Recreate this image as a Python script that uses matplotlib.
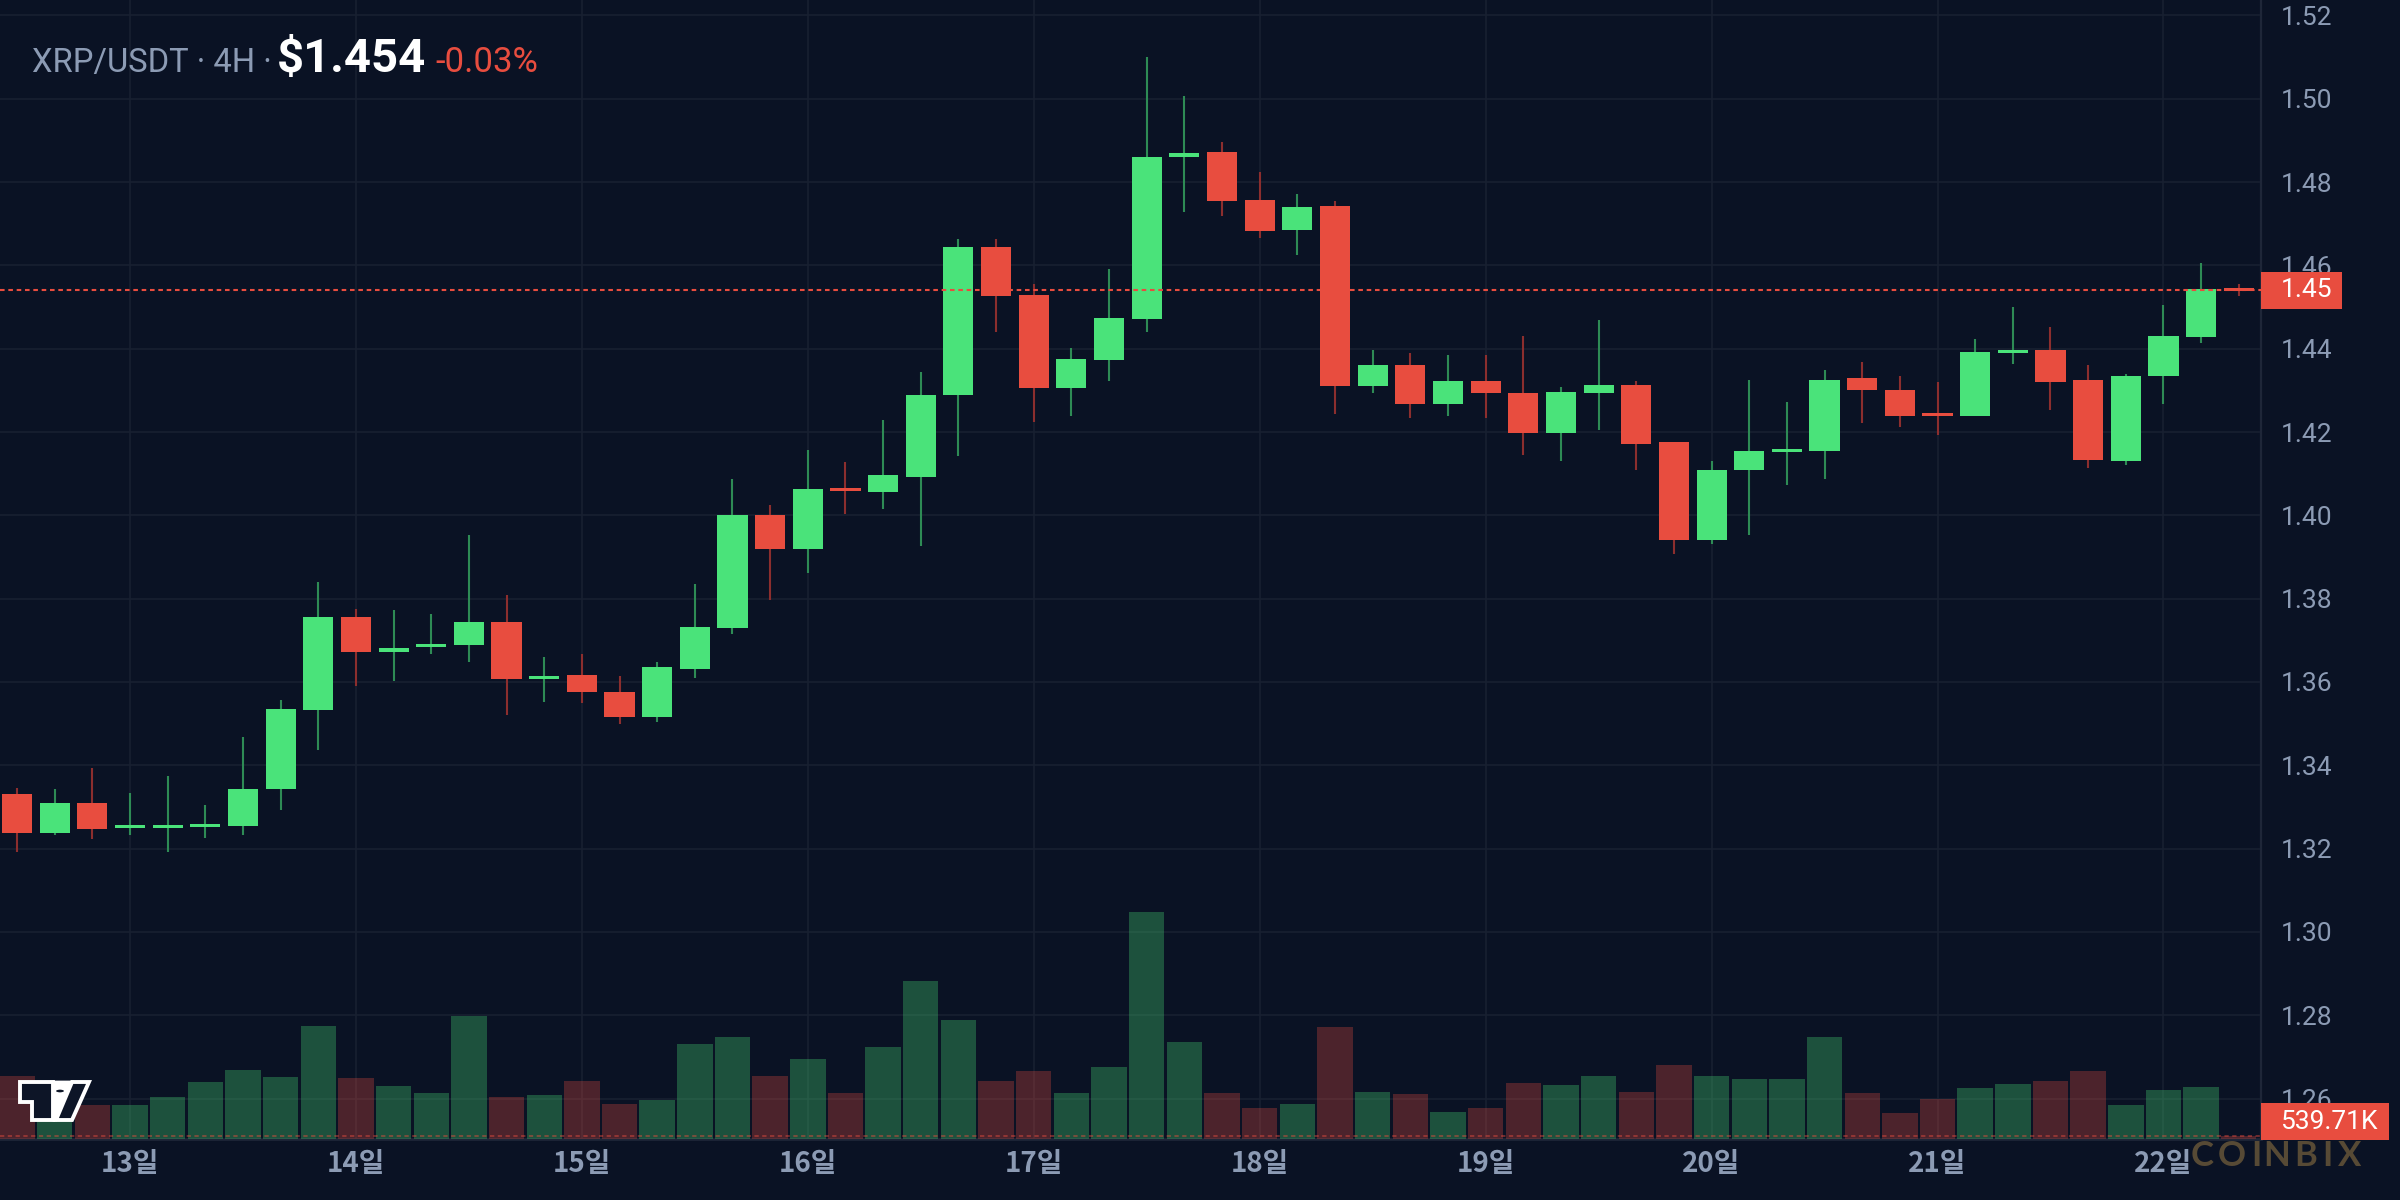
import matplotlib
matplotlib.use("Agg")
import matplotlib.pyplot as plt
from matplotlib.patches import Rectangle, Polygon, Circle
from matplotlib.transforms import blended_transform_factory

# 4H candles, 12일 12:00 -> 22일 04:00
opens = [1.3330, 1.3238, 1.3310, 1.3249, 1.3250, 1.3253, 1.3254, 1.3343, 1.3532, 1.3756,
         1.3673, 1.3684, 1.3689, 1.3744, 1.3606, 1.3616, 1.3576, 1.3517, 1.3631, 1.3729,
         1.4000, 1.3919, 1.4062, 1.4055, 1.4093, 1.4288, 1.4645, 1.4530, 1.4305, 1.4372,
         1.4472, 1.4861, 1.4873, 1.4757, 1.4686, 1.4742, 1.4311, 1.4361, 1.4268, 1.4323,
         1.4294, 1.4197, 1.4294, 1.4314, 1.4175, 1.3941, 1.4108, 1.4152, 1.4154, 1.4329,
         1.4302, 1.4243, 1.4238, 1.4389, 1.4398, 1.4326, 1.4131, 1.4334, 1.4428, 1.4544]
highs = [1.3346, 1.3342, 1.3394, 1.3334, 1.3375, 1.3304, 1.3468, 1.3557, 1.3840, 1.3775,
         1.3773, 1.3764, 1.3954, 1.3808, 1.3660, 1.3668, 1.3615, 1.3648, 1.3834, 1.4087,
         1.4024, 1.4156, 1.4128, 1.4230, 1.4343, 1.4664, 1.4664, 1.4556, 1.4401, 1.4591,
         1.5100, 1.5007, 1.4896, 1.4823, 1.4771, 1.4754, 1.4398, 1.4390, 1.4384, 1.4386,
         1.4431, 1.4309, 1.4469, 1.4323, 1.4175, 1.4131, 1.4326, 1.4271, 1.4350, 1.4369,
         1.4335, 1.4319, 1.4424, 1.4501, 1.4451, 1.4360, 1.4340, 1.4506, 1.4606, 1.4556]
lows = [1.3192, 1.3233, 1.3222, 1.3233, 1.3192, 1.3225, 1.3233, 1.3292, 1.3436, 1.3590,
        1.3602, 1.3666, 1.3649, 1.3520, 1.3551, 1.3549, 1.3499, 1.3505, 1.3610, 1.3715,
        1.3796, 1.3861, 1.4003, 1.4015, 1.3926, 1.4142, 1.4439, 1.4223, 1.4239, 1.4323,
        1.4439, 1.4727, 1.4719, 1.4666, 1.4626, 1.4244, 1.4293, 1.4233, 1.4238, 1.4233,
        1.4146, 1.4130, 1.4204, 1.4110, 1.3908, 1.3932, 1.3953, 1.4072, 1.4087, 1.4221,
        1.4212, 1.4192, 1.4238, 1.4364, 1.4252, 1.4113, 1.4121, 1.4267, 1.4413, 1.4527]
closes = [1.3238, 1.3310, 1.3247, 1.3252, 1.3253, 1.3256, 1.3344, 1.3534, 1.3756, 1.3672,
          1.3681, 1.3690, 1.3744, 1.3606, 1.3615, 1.3576, 1.3517, 1.3636, 1.3732, 1.4000,
          1.3919, 1.4063, 1.4058, 1.4096, 1.4290, 1.4645, 1.4527, 1.4305, 1.4375, 1.4474,
          1.4861, 1.4869, 1.4754, 1.4683, 1.4741, 1.4311, 1.4361, 1.4268, 1.4323, 1.4293,
          1.4197, 1.4297, 1.4314, 1.4172, 1.3941, 1.4110, 1.4154, 1.4156, 1.4326, 1.4300,
          1.4239, 1.4239, 1.4393, 1.4397, 1.4321, 1.4134, 1.4334, 1.4431, 1.4544, 1.4539]
# volume in K
volumes = [11340, 3960, 6120, 6120, 7560, 10260, 12420, 11160, 20340, 10980,
           9540, 8280, 22140, 7560, 7920, 10440, 6300, 7020, 17100, 18360,
           11340, 14400, 8280, 16560, 28440, 21420, 10440, 12240, 8280, 12960,
           40860, 17460, 8280, 5580, 6300, 20160, 8460, 8100, 4860, 5580,
           10080, 9720, 11340, 8460, 13320, 11340, 10800, 10800, 18360, 8280,
           4680, 7200, 9180, 9900, 10440, 12240, 6120, 8820, 9360, 539.71]

date_idx = [3, 9, 15, 21, 27, 33, 39, 45, 51, 57]
date_labels = ["13일", "14일", "15일", "16일", "17일", "18일", "19일", "20일", "21일", "22일"]
price_ticks = [1.26, 1.28, 1.30, 1.32, 1.34, 1.36, 1.38, 1.40, 1.42, 1.44, 1.46, 1.48, 1.50, 1.52]
last_price = 1.454
change_pct = -0.03

W, H = 2400, 1200
BG = '#0a1224'
GREEN = '#4ae37a'
RED = '#e84d3f'
GREEN_WICK = '#2e8b55'
RED_WICK = '#8c2e2e'
GRID = '#182031'
LABEL = '#8c9bb4'


def fp(x, y):
    # pixel (from top-left) -> figure fraction
    return (x / W, 1 - y / H)


fig = plt.figure(figsize=(12, 6), dpi=200, facecolor=BG)
ax = fig.add_axes([0, 1 - 1139 / H, 2261 / W, 1139 / H], facecolor=BG)

ymin, ymax = 1.2503, 1.5237
ax.set_xlim(-0.4514, 59.59)
ax.set_ylim(ymin, ymax)

# candles
for i in range(len(opens)):
    o, h, l, c = opens[i], highs[i], lows[i], closes[i]
    up = c >= o
    ax.vlines(i, l, h, color=GREEN_WICK if up else RED_WICK, lw=0.75, zorder=2)
    body = max(abs(c - o), 0.0007)
    ax.bar(i, body, bottom=min(o, c), width=0.8, color=GREEN if up else RED,
           lw=0, zorder=3)

ax.axhline(last_price, color=RED, lw=0.75, linestyle=(0, (2.2, 1.8)), zorder=4)

# volume (twinx resets the price axis ticks to the left, so set those after)
axv = ax.twinx()
axv.set_ylim(0, 205000)
axv.axis('off')
for i in range(len(volumes)):
    up = closes[i] >= opens[i]
    axv.bar(i, volumes[i], width=0.94, color=GREEN if up else RED, alpha=0.3, lw=0)
axv.axhline(volumes[-1], color=RED, alpha=0.45, lw=0.7, linestyle=(0, (2.2, 1.8)))

ax.set_yticks(price_ticks)
ax.set_yticklabels([f"{p:.2f}" for p in price_ticks], fontfamily='Roboto')
ax.set_xticks(date_idx)
ax.set_xticklabels(date_labels, fontfamily=['Noto Sans CJK KR', 'DejaVu Sans'],
                   fontweight='bold', fontsize=10)
ax.tick_params(axis='y', left=False, labelleft=False, right=False, labelright=True,
               length=0, pad=7.2, labelsize=9.5, labelcolor=LABEL)
ax.tick_params(axis='x', length=0, pad=4, labelcolor=LABEL)
ax.grid(True, color=GRID, lw=0.6)
ax.set_axisbelow(True)
for s in ['left', 'top']:
    ax.spines[s].set_visible(False)
ax.spines['right'].set_color('#1e2638')
ax.spines['right'].set_linewidth(0.8)
ax.spines['bottom'].set_color('#1e2638')
ax.spines['bottom'].set_linewidth(1.0)

# price tag on right axis
tr = blended_transform_factory(fig.transFigure, ax.transData)
tag_h = 37 / 1139 * (ymax - ymin)
fig.add_artist(Rectangle((2261 / W, last_price - tag_h / 2), 81 / W, tag_h,
                         transform=tr, facecolor=RED, edgecolor='none', zorder=5))
fig.text(2281 / W, last_price, f"{last_price:.2f}", transform=tr, color='white',
         fontsize=9.5, fontfamily='Roboto', va='center', ha='left', zorder=6)

# volume tag
x0, y0 = fp(2261, 1140)
fig.add_artist(Rectangle((x0, y0), 128 / W, 37 / H, transform=fig.transFigure,
                         facecolor=RED, edgecolor='none', zorder=5))
fig.text(*fp(2280, 1122), f"{volumes[-1]:.2f}K", color='white', fontsize=9.5,
         fontfamily='Roboto', va='center', ha='left', zorder=6)

# header
fig.text(*fp(32, 72), "XRP/USDT · 4H ·", color=LABEL, fontsize=11.8,
         fontfamily='Roboto', va='baseline')
fig.text(*fp(277, 72), f"${last_price:.3f}", color='white', fontsize=17,
         fontweight='bold', fontfamily='Roboto', va='baseline')
fig.text(*fp(435, 72), f"{change_pct:.2f}%", color=RED, fontsize=12.5,
         fontfamily='Roboto', va='baseline')

# watermark
for ch, cx in zip("COINBIX", [2202, 2232, 2256, 2277, 2306, 2327, 2350]):
    fig.text(*fp(cx, 1156), ch, color='#574a35', fontsize=12.5, fontweight='bold',
             fontfamily='Lato', ha='center', va='center')

# small logo bottom-left
t_shape = [fp(20, 1082), fp(53, 1082), fp(53, 1120), fp(32, 1120), fp(32, 1102), fp(20, 1102)]
fig.add_artist(Polygon(t_shape, closed=True, transform=fig.transFigure,
                       facecolor='#0d1527', edgecolor='white', lw=1.4, zorder=5))
slash = [fp(72, 1082), fp(89, 1082), fp(72, 1120), fp(56, 1120)]
fig.add_artist(Polygon(slash, closed=True, transform=fig.transFigure,
                       facecolor='#0d1527', edgecolor='white', lw=1.4, zorder=5))
fig.add_artist(Polygon([fp(53, 1082), fp(72, 1082), fp(56, 1120), fp(53, 1120)],
                       closed=True, transform=fig.transFigure, facecolor='white',
                       edgecolor='white', lw=1.0, zorder=4))
fig.add_artist(Circle(fp(60, 1091), 5.5 / W, transform=fig.transFigure,
                      facecolor='#0d1527', edgecolor='white', lw=1.0, zorder=6))

fig.savefig("out.png", dpi=200, facecolor=BG)
